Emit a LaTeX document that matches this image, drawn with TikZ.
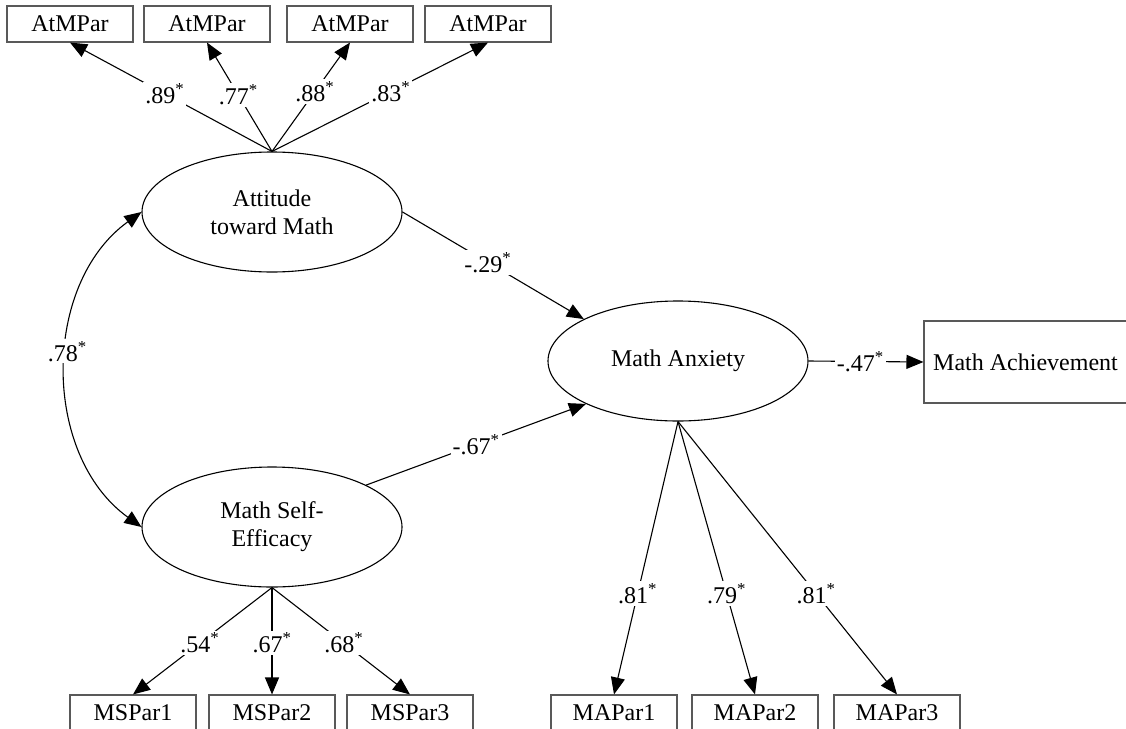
\documentclass[tikz,border=0pt]{standalone}
\usepackage{fontspec}
\setmainfont{Liberation Serif}
\usetikzlibrary{arrows.meta, shapes.geometric}

\begin{document}
\begin{tikzpicture}[x=1pt, y=-1pt, line width=1.1pt,
    every node/.style={font=\fontsize{24}{28}\selectfont},
    latent/.style={draw, ellipse, minimum width=260pt, minimum height=120pt, align=center, inner sep=0pt},
    obs/.style={draw=black!65, rectangle, minimum width=126pt, minimum height=36pt, inner sep=0pt},
    coef/.style={fill=white, inner sep=2pt},
    arr/.style={-{Triangle[length=17pt, width=14pt]}},
    dbl/.style={{Triangle[length=17pt, width=14pt]}-{Triangle[length=17pt, width=14pt]}}]
    \useasboundingbox (0,0) rectangle (1126,728);

    % latent variables
    \node[latent] (atm) at (272,212) {Attitude\\toward Math};
    \node[latent] (mse) at (272,527) {Math Self-\\Efficacy};
    \node[latent] (manx) at (678,361) {Math Anxiety};
    \node[draw=black!65, minimum width=203pt, minimum height=82pt] (mach) at (1025.5,362) {Math Achievement};

    % indicators
    \node[obs] (atp1) at (70,24) {AtMPar};
    \node[obs] (atp2) at (207,24) {AtMPar};
    \node[obs] (atp3) at (350,24) {AtMPar};
    \node[obs] (atp4) at (488,24) {AtMPar};

    \node[obs] (msp1) at (133,713) {MSPar1};
    \node[obs] (msp2) at (272,713) {MSPar2};
    \node[obs] (msp3) at (410,713) {MSPar3};

    \node[obs] (map1) at (614,713) {MAPar1};
    \node[obs] (map2) at (755,713) {MAPar2};
    \node[obs] (map3) at (897,713) {MAPar3};

    % loadings
    \draw[arr] (atm.north) -- (atp1.south) node[coef, pos=0.53] {.89\textsuperscript{*}};
    \draw[arr] (atm.north) -- (atp2.south) node[coef, pos=0.52] {.77\textsuperscript{*}};
    \draw[arr] (atm.north) -- (atp3.south) node[coef, pos=0.55] {.88\textsuperscript{*}};
    \draw[arr] (atm.north) -- (atp4.south) node[coef, pos=0.55] {.83\textsuperscript{*}};

    \draw[arr] (mse.south) -- (msp1.north) node[coef, pos=0.52] {.54\textsuperscript{*}};
    \draw[arr] (mse.south) -- (msp2.north) node[coef, pos=0.52] {.67\textsuperscript{*}};
    \draw[arr] (mse.south) -- (msp3.north) node[coef, pos=0.52] {.68\textsuperscript{*}};

    \draw[arr] (manx.south) -- (map1.north) node[coef, pos=0.63] {.81\textsuperscript{*}};
    \draw[arr] (manx.south) -- (map2.north) node[coef, pos=0.63] {.79\textsuperscript{*}};
    \draw[arr] (manx.south) -- (map3.north) node[coef, pos=0.63] {.81\textsuperscript{*}};

    % structural paths
    \draw[arr] (atm.east) -- (manx.156) node[coef, pos=0.47] {-.29\textsuperscript{*}};
    \draw[arr] (mse.24) -- (manx.205) node[coef, pos=0.5] {-.67\textsuperscript{*}};
    \draw[arr] (manx.east) -- (mach.west) node[coef, pos=0.45] {-.47\textsuperscript{*}};
    \draw[dbl] (atm.west) .. controls +(-100,72) and +(-100,-72) .. (mse.west)
        node[coef, pos=0.45] {.78\textsuperscript{*}};
\end{tikzpicture}
\end{document}
